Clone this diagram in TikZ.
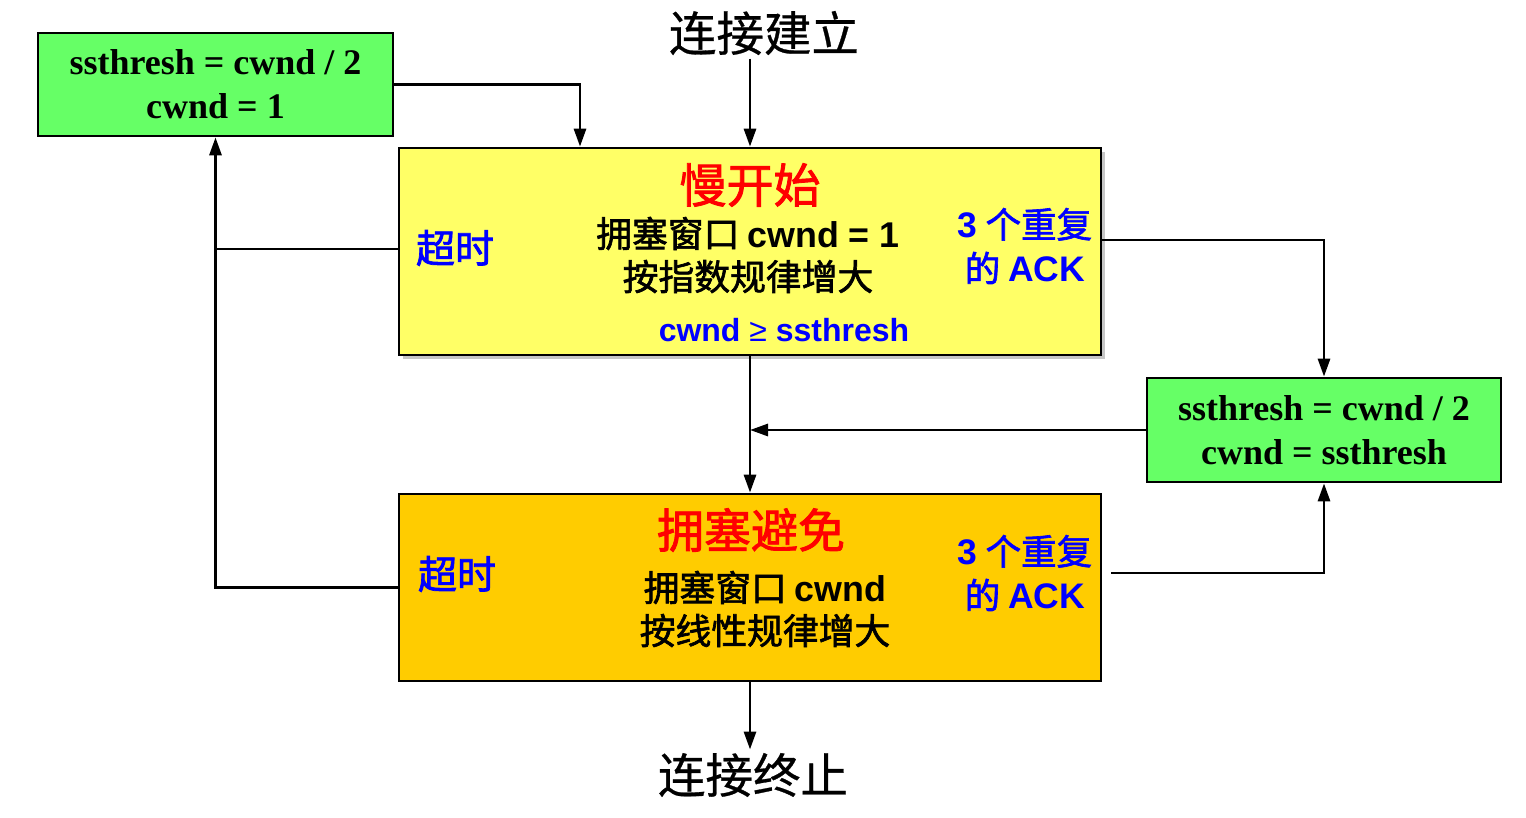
\documentclass[tikz,border=0pt]{standalone}
\usepackage{fontspec}
\usetikzlibrary{arrows.meta,shadows}
\newfontfamily\cjk[FakeBold=0.6]{Noto Sans CJK SC}
\newfontfamily\cjkmid[FakeBold=1.8]{Noto Sans CJK SC}
\newfontfamily\sansfam{Liberation Sans}
\newfontfamily\seriffam{Liberation Serif}
\newcommand\engb[1]{{\sansfam\bfseries #1}}
\definecolor{boxgreen}{HTML}{66FF66}
\definecolor{boxyellow}{HTML}{FFFF66}
\definecolor{boxorange}{HTML}{FFCC00}
\definecolor{txtblue}{HTML}{0000FF}
\definecolor{txtred}{HTML}{FF0000}
\begin{document}
\begin{tikzpicture}[x=1pt,y=-1pt,
  statebox/.style={draw=black,line width=2.7pt,inner sep=0pt},
  greenbox/.style={statebox,fill=boxgreen,align=center,
    font=\seriffam\bfseries\fontsize{36}{44}\selectfont},
  title/.style={text=txtred,font=\cjkmid\fontsize{47}{50}\selectfont},
  body/.style={align=center,font=\cjkmid\fontsize{35.8}{43}\selectfont},
  side/.style={text=txtblue,align=center,font=\cjkmid\fontsize{35.5}{44}\selectfont},
  timeout/.style={text=txtblue,font=\cjkmid\fontsize{39}{44}\selectfont},
  endpoint/.style={font=\cjk\fontsize{47.5}{50}\selectfont},
  flow/.style={line width=2.9pt,-{Triangle[length=18pt,width=12pt]}},
  link/.style={line width=2.9pt}]
\useasboundingbox (0,0) rectangle (1526,818);

% state boxes
\node[statebox,fill=boxyellow,minimum width=702pt,minimum height=207pt,
  drop shadow={opacity=0.45,shadow xshift=4pt,shadow yshift=-4pt}] (ys) at (750,251.5) {};
\node[statebox,fill=boxorange,minimum width=702pt,minimum height=187pt] (os) at (750,587.5) {};
\node[greenbox,minimum width=355pt,minimum height=103pt] (g1) at (215.5,84.5)
  {ssthresh = cwnd / 2\\cwnd = 1};
\node[greenbox,minimum width=354pt,minimum height=104pt] (g2) at (1324,430)
  {ssthresh = cwnd / 2\\cwnd = ssthresh};

% labels of the slow-start box
\node[title] (ysTitle) at (750,185) {慢开始};
\node[body] (ysBody) at (748,255) {拥塞窗口 \engb{cwnd = 1}\\按指数规律增大};
\node[timeout] (ysTimeout) at (455,248) {超时};
\node[side] (ysAck) at (1025,246) {\engb{3} 个重复\\的 \engb{ACK}};
\node[text=txtblue,font=\sansfam\bfseries\fontsize{32}{36}\selectfont] (ysCond) at (784,330)
  {cwnd {\mdseries ≥} ssthresh};

% labels of the congestion-avoidance box
\node[title] (osTitle) at (751,530) {拥塞避免};
\node[body] (osBody) at (765,609) {拥塞窗口 \engb{cwnd}\\按线性规律增大};
\node[timeout] (osTimeout) at (457,574) {超时};
\node[side] (osAck) at (1025,573) {\engb{3} 个重复\\的 \engb{ACK}};

% endpoints
\node[endpoint] (start) at (764,33) {连接建立};
\node[endpoint] (stop) at (753,775) {连接终止};

% connectors
\draw[flow] (ys.north |- start.south) -- (ys.north);
\draw[flow] (g1.east) -| ([xshift=-170pt]ys.north);
\draw[link] ([yshift=2.5pt]ys.west) -- ([yshift=2.5pt]ys.west -| g1.south);
\draw[flow] (os.west) -| (g1.south);
\draw[flow] ([yshift=11.5pt]ys.east) -| (g2.north);
\draw[flow] ([xshift=9pt,yshift=14.5pt]os.east) -| (g2.south);
\draw[flow] (g2.west) -- (g2.west -| ys.south);
\draw[flow] (ys.south) -- (os.north);
\draw[flow] (os.south) -- (os.south |- stop.north);
\end{tikzpicture}
\end{document}
